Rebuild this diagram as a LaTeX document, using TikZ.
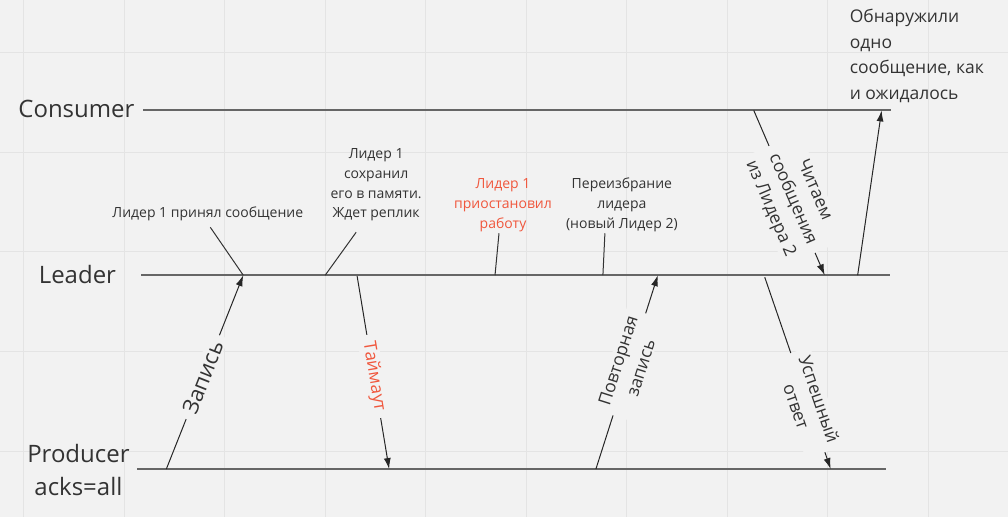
\documentclass[tikz,border=0pt]{standalone}
\usepackage{fontspec}
\setmainfont{Open Sans}
\usepackage{tikz}
\usetikzlibrary{arrows.meta}
\definecolor{boardbg}{HTML}{F2F2F2}
\definecolor{boardgrid}{HTML}{E4E4E4}
\definecolor{ink}{HTML}{333333}
\definecolor{alert}{HTML}{F0573D}
\definecolor{lifegray}{HTML}{666666}

\begin{document}
\begin{tikzpicture}[x=1pt, y=-1pt, >={Latex[length=11pt,width=7pt]},
  every node/.style={inner sep=1.5pt, text=ink},
  lifeline/.style={draw=lifegray, line width=1.8pt},
  msg/.style={->, draw=black!85, line width=1pt},
  pointer/.style={draw=ink, line width=1pt},
  actor/.style={font=\fontsize{24}{33}\selectfont, align=center},
  note/.style={font=\fontsize{14}{19.8}\selectfont, align=center},
  msglabel/.style={font=\fontsize{17.5}{24}\selectfont, align=center,
    sloped, fill=boardbg, inner xsep=7pt}]
  % board
  \fill[boardbg] (0,0) rectangle (1008,517);
  \foreach \i in {0,...,9}
    \draw[boardgrid, line width=1pt] ({23.4+100.6*\i},0) -- ++(0,517);
  \foreach \j in {0,...,4}
    \draw[boardgrid, line width=1pt] (0,{52+99.8*\j}) -- ++(1008,0);
  \useasboundingbox (0,0) rectangle (1008,517);

  % lifelines
  \coordinate (consL) at (143,110);
  \coordinate (consR) at (891,110);
  \coordinate (leadL) at (141,275);
  \coordinate (leadR) at (890,275);
  \coordinate (prodL) at (137,469);
  \coordinate (prodR) at (886,469);
  \draw[lifeline] (consL) -- (consR);
  \draw[lifeline] (leadL) -- (leadR);
  \draw[lifeline] (prodL) -- (prodR);
  \node[actor, anchor=base] (consumer) at (76,117) {Consumer};
  \node[actor, anchor=base] (leader) at (77,283) {Leader};
  \node[actor, anchor=base] (producer) at (78,495) {Producer\\acks=all};

  % message ends
  \coordinate (zapS) at (166,469);
  \coordinate (zapE) at (243,275);
  \coordinate (timS) at (357,276);
  \coordinate (timE) at (389,469);
  \coordinate (repS) at (596,469);
  \coordinate (repE) at (658,275);
  \coordinate (okS) at (765,277);
  \coordinate (okE) at (831,469);
  \coordinate (readS) at (754,110);
  \coordinate (readE) at (825,275);
  \coordinate (gotS) at (858,275);
  \coordinate (gotE) at (882,110);
  \coordinate (savedE) at (325,275);
  \coordinate (stopE) at (495,275);
  \coordinate (electE) at (603,275);

  % messages
  \draw[msg] (zapS) -- node[msglabel, pos=0.474,
    font=\fontsize{22}{26}\selectfont] {Запись} (zapE);
  \draw[msg] (timS) -- node[msglabel, pos=0.52, text=alert] {Таймаут} (timE);
  \draw[msg] (repS) -- node[msglabel, pos=0.54] {Повторная\\запись} (repE);
  \draw[msg] (okS) -- node[msglabel, pos=0.654] {Успешный\\ответ} (okE);
  \draw[msg] (readS) -- node[msglabel, pos=0.54]
    {Читаем\\сообщения\\из Лидера 2} (readE);
  \draw[msg] (gotS) -- (gotE);

  % notes on the leader line
  \node[note, anchor=base] (accepted) at (207.5,217) {Лидер 1 принял сообщение};
  \node[note, anchor=base] (saved) at (376,217.5)
    {Лидер 1\\сохранил\\его в памяти.\\Ждет реплик};
  \node[note, anchor=base, text=alert] (stopped) at (503,228)
    {Лидер 1\\приостановил\\работу};
  \node[note, anchor=base] (elected) at (622,228)
    {Переизбрание\\лидера\\(новый Лидер 2)};
  \node[font=\fontsize{17.5}{25.5}\selectfont, align=left, anchor=base west]
    (found) at (848.5,99) {Обнаружили\\одно\\сообщение, как\\и ожидалось};
  \coordinate (acceptedP) at (210,227);
  \coordinate (savedP) at (356,232);
  \coordinate (stoppedP) at (499,233);
  \coordinate (electedP) at (605,233);
  \draw[pointer] (acceptedP) -- (zapE);
  \draw[pointer] (savedP) -- (savedE);
  \draw[pointer] (stoppedP) -- (stopE);
  \draw[pointer] (electedP) -- (electE);
\end{tikzpicture}
\end{document}
